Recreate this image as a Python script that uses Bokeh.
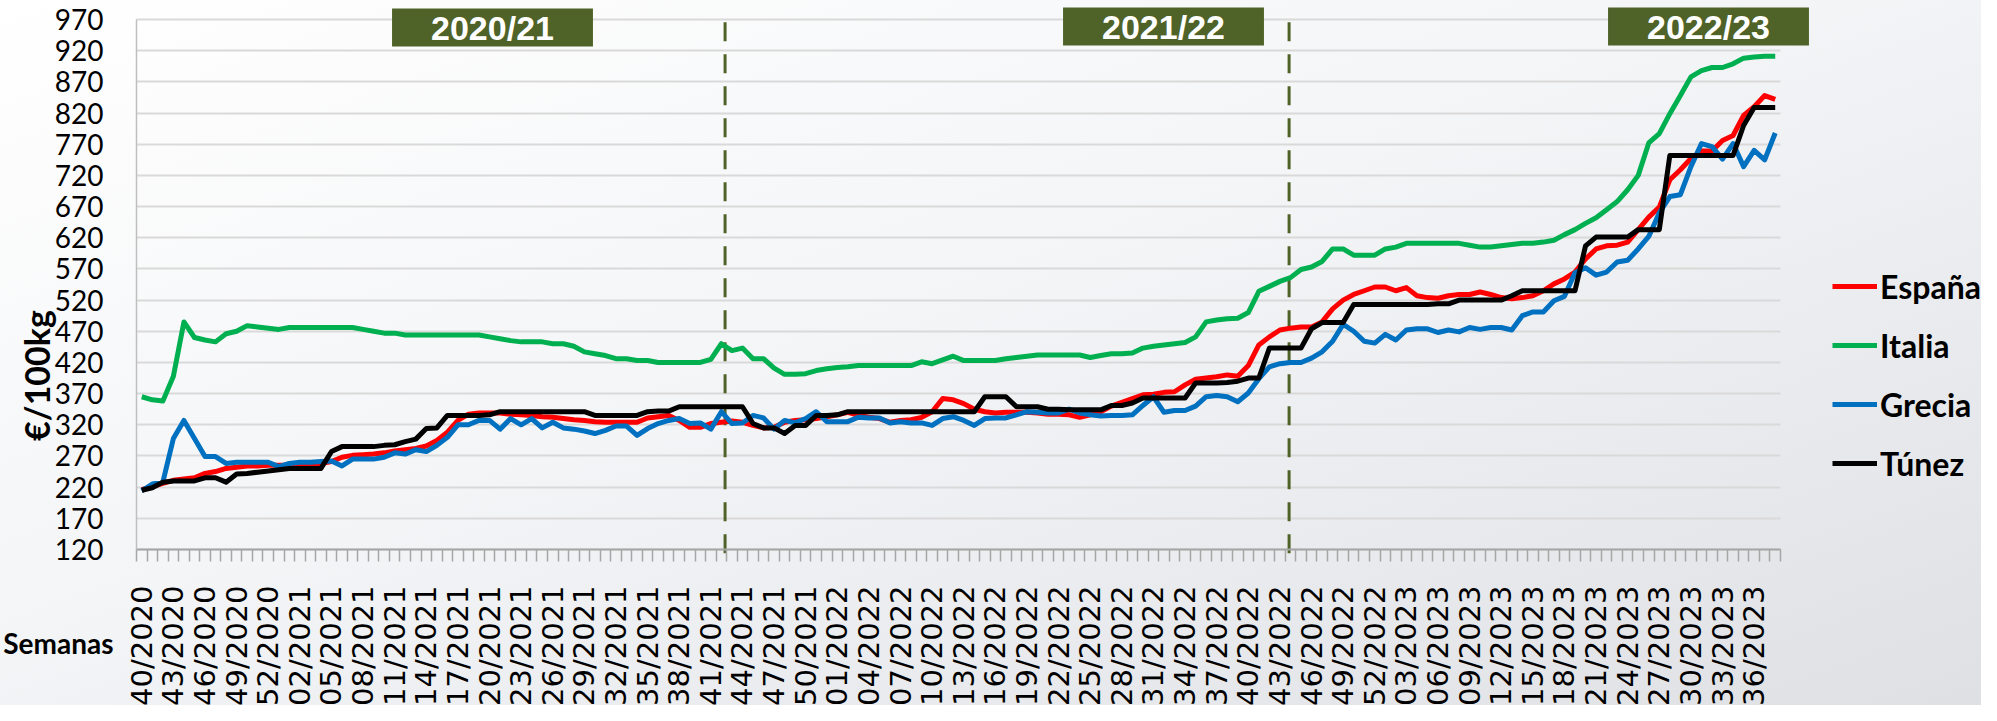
import math
from bokeh.plotting import figure
from bokeh.models import Range1d, FixedTicker, Label, Legend, LegendItem
from bokeh.embed import file_html
from bokeh.resources import INLINE

# ---------------- data ----------------
N_WEEKS = 156  # 40/2020 ... 38/2023

tick_labels = [
    "40/2020", "43/2020", "46/2020", "49/2020", "52/2020",
    "02/2021", "05/2021", "08/2021", "11/2021", "14/2021", "17/2021", "20/2021",
    "23/2021", "26/2021", "29/2021", "32/2021", "35/2021", "38/2021", "41/2021",
    "44/2021", "47/2021", "50/2021",
    "01/2022", "04/2022", "07/2022", "10/2022", "13/2022", "16/2022", "19/2022",
    "22/2022", "25/2022", "28/2022", "31/2022", "34/2022", "37/2022", "40/2022",
    "43/2022", "46/2022", "49/2022", "52/2022",
    "03/2023", "06/2023", "09/2023", "12/2023", "15/2023", "18/2023", "21/2023",
    "24/2023", "27/2023", "30/2023", "33/2023", "36/2023",
]
TICK_STEP = 3

espana = [
    216, 221, 226, 231, 233, 235, 242, 245, 250, 252,
    254, 254, 255, 255, 255, 256, 256, 258, 261, 268,
    271, 272, 273, 275, 278, 280, 282, 286, 295, 308,
    327, 337, 339, 339, 339, 337, 336, 335, 333, 332,
    330, 328, 327, 325, 324, 324, 324, 324, 331, 333,
    335, 327, 316, 316, 322, 324, 326, 324, 319, 315,
    316, 324, 327, 328, 330, 333, 336, 340, 335, 332,
    330, 324, 327, 328, 332, 341, 362, 360, 354, 345,
    341, 339, 340, 340, 340, 339, 337, 337, 336, 332,
    336, 341, 350, 356, 362, 368, 369, 372, 373, 384,
    393, 395, 397, 400, 398, 415, 448, 461, 472, 475,
    477, 477, 485, 506, 520, 529, 535, 541, 541, 535,
    540, 527, 524, 523, 527, 529, 529, 533, 529, 524,
    522, 524, 527, 535, 546, 554, 565, 586, 602, 607,
    608, 613, 633, 653, 669, 713, 729, 747, 759, 759,
    776, 784, 816, 830, 848, 842,
]
italia = [
    365, 360, 358, 398, 485, 460, 456, 453, 466, 470,
    479, 477, 475, 473, 476, 476, 476, 476, 476, 476,
    476, 473, 470, 467, 467, 464, 464, 464, 464, 464,
    464, 464, 464, 461, 458, 455, 453, 453, 453, 450,
    450, 446, 437, 434, 431, 426, 426, 423, 423, 420,
    420, 420, 420, 420, 425, 450, 439, 443, 426, 426,
    411, 401, 401, 402, 407, 410, 412, 413, 415, 415,
    415, 415, 415, 415, 421, 418, 424, 430, 423, 423,
    423, 423, 426, 428, 430, 432, 432, 432, 432, 432,
    428, 431, 434, 434, 435, 443, 446, 448, 450, 452,
    461, 485, 488, 490, 491, 500, 534, 542, 550, 556,
    569, 573, 582, 602, 602, 592, 592, 592, 602, 605,
    611, 611, 611, 611, 611, 611, 608, 605, 605, 607,
    609, 611, 611, 613, 616, 625, 633, 643, 652, 665,
    678, 697, 720, 772, 787, 819, 848, 878, 888, 893,
    893, 899, 908, 910, 911, 911,
]
grecia = [
    214, 225, 228, 298, 327, 298, 269, 269, 258, 260,
    260, 260, 260, 253, 258, 260, 260, 261, 262, 254,
    265, 265, 265, 268, 275, 273, 280, 277, 287, 300,
    320, 320, 327, 327, 313, 330, 320, 330, 315, 324,
    315, 313, 310, 306, 311, 318, 318, 303, 314, 322,
    327, 330, 322, 323, 313, 341, 322, 323, 335, 331,
    313, 327, 323, 330, 341, 325, 325, 325, 332, 331,
    331, 323, 325, 323, 323, 319, 330, 333, 327, 319,
    330, 331, 331, 336, 341, 340, 339, 339, 345, 339,
    336, 334, 335, 335, 336, 351, 365, 340, 343, 343,
    350, 365, 367, 365, 357, 371, 394, 413, 418, 420,
    420, 427, 437, 454, 481, 470, 454, 451, 465, 456,
    472, 474, 474, 468, 472, 469, 476, 473, 476, 476,
    472, 495, 501, 501, 519, 526, 564, 572, 560, 565,
    581, 584, 602, 622, 660, 686, 689, 734, 771, 766,
    746, 771, 734, 760, 745, 788,
]
tunez = [
    215, 219, 228, 230, 230, 230, 235, 235, 228, 241,
    242, 244, 246, 248, 250, 250, 250, 250, 277, 285,
    285, 285, 285, 287, 288, 293, 297, 314, 315, 335,
    335, 335, 335, 336, 341, 341, 341, 341, 341, 341,
    341, 341, 341, 335, 335, 335, 335, 335, 341, 342,
    342, 349, 349, 349, 349, 349, 349, 349, 322, 315,
    315, 306, 319, 319, 335, 335, 336, 341, 341, 341,
    341, 341, 341, 341, 341, 341, 341, 341, 341, 341,
    365, 365, 365, 349, 349, 349, 345, 345, 344, 344,
    344, 344, 351, 351, 355, 363, 363, 363, 363, 363,
    387, 387, 387, 388, 390, 395, 395, 443, 443, 443,
    443, 474, 484, 484, 484, 513, 513, 513, 513, 513,
    513, 513, 513, 514, 514, 520, 520, 520, 520, 520,
    527, 535, 535, 535, 535, 535, 535, 607, 621, 621,
    621, 621, 633, 633, 633, 752, 752, 752, 752, 752,
    752, 752, 800, 829, 829, 829,
]
series_names = ["España", "Italia", "Grecia", "Túnez"]
series_colors = ["#FF0000", "#00B050", "#0070C0", "#000000"]

season_labels = ["2020/21", "2021/22", "2022/23"]
season_breaks = [55.35, 108.87]

Y_MIN, Y_MAX, Y_STEP = 120, 970, 50

# ---------------- layout (pixels of the canvas) ----------------
W, H = 1981, 705
PLOT_L, PLOT_R = 136, 1780      # plot area edges (canvas px)
PLOT_T, PLOT_B = 19, 549
x_lo, x_hi = -0.5, N_WEEKS - 0.5
px_x = (PLOT_R - PLOT_L) / (x_hi - x_lo)
px_y = (PLOT_B - PLOT_T) / (Y_MAX - Y_MIN)
X0 = x_lo - PLOT_L / px_x
X1 = x_hi + (W - PLOT_R) / px_x
Y1 = Y_MAX + PLOT_T / px_y
Y0 = Y_MIN - (H - PLOT_B) / px_y


def dx(cx):  # canvas px -> data x
    return x_lo + (cx - PLOT_L) / px_x


def dy(cy):  # canvas px -> data y
    return Y_MAX - (cy - PLOT_T) / px_y


weeks = list(range(N_WEEKS))

p = figure(width=W, height=H, title=None, output_backend="svg", toolbar_location=None,
           x_range=Range1d(X0, X1), y_range=Range1d(Y0, Y1),
           min_border_left=0, min_border_right=0, min_border_top=0, min_border_bottom=0)
p.background_fill_color = None
p.border_fill_color = None
p.outline_line_color = None
p.styles = {"background": "linear-gradient(to bottom right, #FFFFFF 0%, #F4F5F7 45%, #DFE0E4 100%)"}

# y axis / grid
yt = FixedTicker(ticks=list(range(Y_MIN, Y_MAX + 1, Y_STEP)))
yax = p.yaxis[0]
yax.ticker = yt
yax.fixed_location = x_lo
yax.bounds = (Y_MIN, Y_MAX)
yax.axis_line_color = "#BFBFBF"
yax.axis_line_width = 1.5
yax.major_tick_line_color = None
yax.minor_tick_line_color = None
yax.major_label_text_font = "Lato"
yax.major_label_text_font_size = "28px"
yax.major_label_text_color = "#000000"
yax.major_label_standoff = 27

p.xgrid.visible = False
yg = p.ygrid[0]
yg.ticker = yt
yg.grid_line_color = "#D9D9D9"
yg.grid_line_width = 2
yg.bounds = (Y_MIN, Y_MAX)
if "cross_bounds" in yg.properties():
    yg.cross_bounds = (x_lo, x_hi)
else:
    yg.visible = False
    gy = list(range(Y_MIN, Y_MAX + 1, Y_STEP))
    p.segment(x0=[x_lo] * len(gy), x1=[x_hi] * len(gy), y0=gy, y1=gy,
              line_color="#D9D9D9", line_width=2, level="underlay")

# x axis
tick_pos = [i * TICK_STEP for i in range(len(tick_labels))]
xt = FixedTicker(ticks=tick_pos, minor_ticks=[i - 0.5 for i in range(N_WEEKS + 1)])
xax = p.xaxis[0]
xax.ticker = xt
xax.fixed_location = Y_MIN
xax.bounds = (x_lo, x_hi)
xax.major_label_overrides = {pos: lab for pos, lab in zip(tick_pos, tick_labels)}
xax.major_label_orientation = math.pi / 2
xax.major_tick_line_color = None
xax.major_tick_in = 0
xax.major_tick_out = 0
xax.minor_tick_in = 0
xax.minor_tick_out = 12
xax.minor_tick_line_color = "#A6A6A6"
xax.minor_tick_line_width = 1.5
xax.axis_line_color = "#A6A6A6"
xax.axis_line_width = 2
xax.major_label_text_font = "DejaVu Sans"
xax.major_label_text_font_size = "29px"
xax.major_label_text_color = "#000000"
xax.major_label_standoff = 24

# season separators
p.segment(x0=season_breaks, x1=season_breaks,
          y0=[Y_MIN - 6] * len(season_breaks), y1=[Y_MAX + 5] * len(season_breaks),
          line_color="#4F6228", line_width=3, line_dash="19 13")

# series
renderers = []
for name, vals, col in zip(series_names, [espana, italia, grecia, tunez], series_colors):
    r = p.line(x=weeks, y=vals, line_color=col, line_width=5, line_join="round")
    renderers.append(r)

legend = Legend(items=[LegendItem(label=n, renderers=[r]) for n, r in zip(series_names, renderers)],
                location=(1832, 222), orientation="vertical", padding=0, margin=0, spacing=19,
                glyph_width=45, glyph_height=40, label_height=40, label_standoff=3,
                label_text_font="Lato", label_text_font_style="bold", label_text_font_size="32px",
                label_text_color="#000000", border_line_color=None, background_fill_alpha=0)
p.add_layout(legend)

# season boxes
season_cx = [492, 1163, 1708]
season_cy = [27, 26, 26]
for lab, cx, cy in zip(season_labels, season_cx, season_cy):
    p.add_layout(Label(x=dx(cx), y=dy(cy), text=lab, text_font="Liberation Sans",
                       text_font_style="bold", text_font_size="34px", text_color="#FFFFFF",
                       text_align="center", text_baseline="middle",
                       background_fill_color="#4F6228", padding=(39, 0)))

# axis titles
p.add_layout(Label(x=dx(36), y=dy(375), text="€/100kg", angle=math.pi / 2, text_font="Lato",
                   text_font_style="bold", text_font_size="34px", text_color="#000000",
                   text_align="center", text_baseline="middle"))
p.add_layout(Label(x=dx(113), y=dy(642), text="Semanas", text_font="Lato", text_font_style="bold",
                   text_font_size="28px", text_color="#000000", text_align="right",
                   text_baseline="middle"))

open("out.html", "w").write(file_html(p, INLINE))
